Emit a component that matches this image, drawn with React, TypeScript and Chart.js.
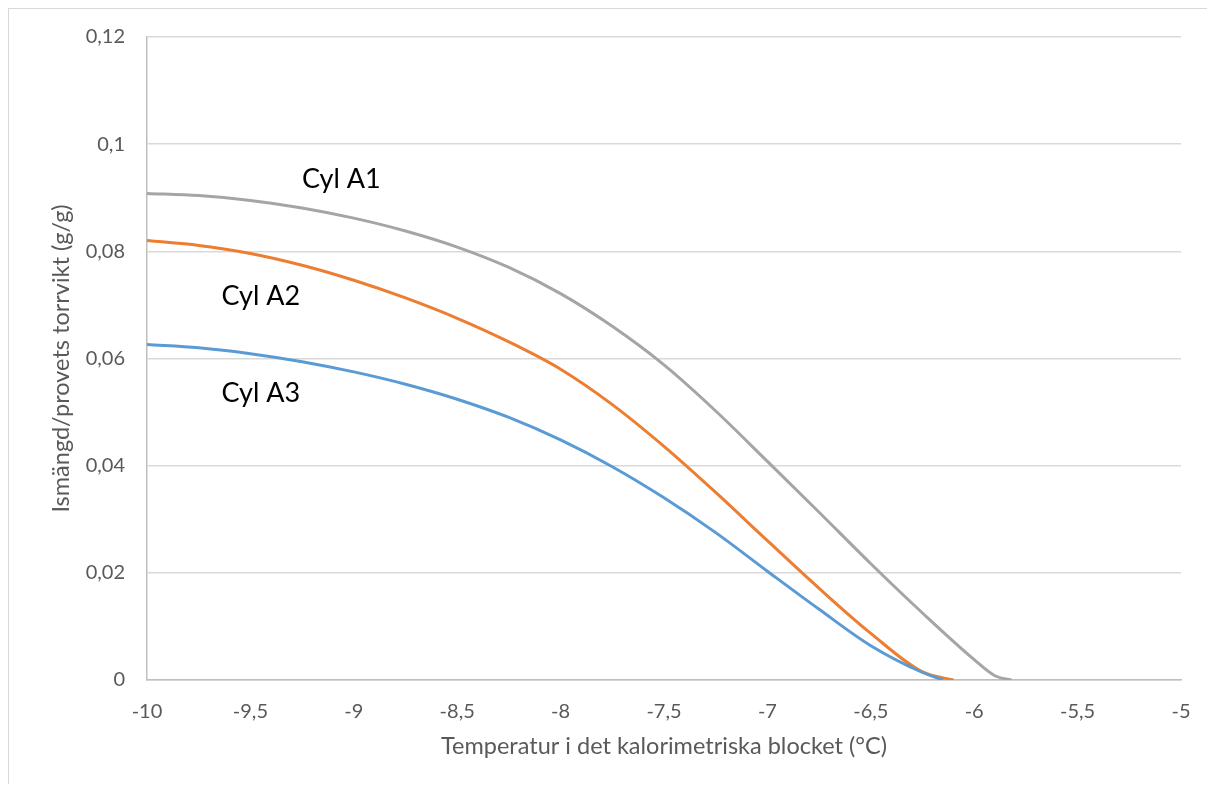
import React, { useEffect, useRef } from "react";
import { Chart, registerables } from "chart.js";

Chart.register(...registerables);

// Cyl A1 (grey)
const xA1 = [-10, -9.75, -9.5, -9.25, -9, -8.75, -8.5, -8.25, -8, -7.75, -7.5, -7.25, -7, -6.75, -6.5, -6.25, -6, -5.9, -5.82];
const yA1 = [0.0908, 0.0904, 0.0895, 0.0881, 0.0862, 0.0838, 0.0808, 0.077, 0.0721, 0.066, 0.0588, 0.0502, 0.0408, 0.0313, 0.0217, 0.0125, 0.0038, 0.0008, 0];

// Cyl A2 (orange)
const xA2 = [-10, -9.75, -9.5, -9.25, -9, -8.75, -8.5, -8.25, -8, -7.75, -7.5, -7.25, -7, -6.75, -6.5, -6.25, -6.1];
const yA2 = [0.082, 0.0811, 0.0796, 0.0774, 0.0746, 0.0713, 0.0675, 0.0631, 0.058, 0.0514, 0.0436, 0.035, 0.026, 0.0171, 0.0087, 0.0015, 0];

// Cyl A3 (blue)
const xA3 = [-10, -9.75, -9.5, -9.25, -9, -8.75, -8.5, -8.25, -8, -7.75, -7.5, -7.25, -7, -6.75, -6.5, -6.25, -6.15];
const yA3 = [0.0626, 0.062, 0.0609, 0.0594, 0.0575, 0.0552, 0.0524, 0.049, 0.0448, 0.0398, 0.034, 0.0275, 0.0203, 0.0132, 0.0064, 0.0014, 0];

// Curve labels (data coordinates)
const labelTexts = ["Cyl A1", "Cyl A2", "Cyl A3"];
const labelXs = [-9.06, -9.45, -9.45];
const labelYs = [0.0935, 0.0716, 0.0535];

const xTitle = "Temperatur i det kalorimetriska blocket (°C)";
const yTitle = "Ismängd/provets torrvikt (g/g)";

const fmt = (v: number) => String(Math.round(v * 1000) / 1000).replace(".", ",");

const FONT = "Lato";

const labelPlugin = {
  id: "curveLabels",
  afterDatasetsDraw(chart: any) {
    const { ctx, scales } = chart;
    ctx.save();
    ctx.font = `27px ${FONT}`;
    ctx.fillStyle = "#000000";
    ctx.textAlign = "center";
    ctx.textBaseline = "middle";
    labelTexts.forEach((t, i) => {
      ctx.fillText(t, scales.x.getPixelForValue(labelXs[i]), scales.y.getPixelForValue(labelYs[i]));
    });
    ctx.restore();
  },
};

export default function App() {
  const ref = useRef<HTMLCanvasElement | null>(null);

  useEffect(() => {
    if (!ref.current) return;
    const mk = (xs: number[], ys: number[]) => xs.map((x, i) => ({ x, y: ys[i] }));
    const lineDs = (label: string, xs: number[], ys: number[], color: string) => ({
      label,
      data: mk(xs, ys),
      borderColor: color,
      backgroundColor: color,
      borderWidth: 3,
      pointRadius: 0,
      pointHoverRadius: 0,
      fill: false,
      cubicInterpolationMode: "monotone" as const,
    });
    const chart = new Chart(ref.current, {
      type: "line",
      data: {
        datasets: [
          lineDs("Cyl A3", xA3, yA3, "#5b9bd5"),
          lineDs("Cyl A2", xA2, yA2, "#ed7d31"),
          lineDs("Cyl A1", xA1, yA1, "#a5a5a5"),
        ],
      },
      options: {
        responsive: false,
        animation: false,
        layout: { autoPadding: false, padding: { left: 0, right: 26, top: 28, bottom: 9 } },
        plugins: { legend: { display: false }, tooltip: { enabled: false } },
        scales: {
          x: {
            type: "linear",
            min: -10,
            max: -5,
            ticks: {
              stepSize: 0.5,
              padding: 20,
              color: "#595959",
              font: { family: FONT, size: 20 },
              callback: (v: any) => fmt(Number(v)),
              maxRotation: 0,
              autoSkip: false,
            },
            grid: { display: false, drawTicks: false },
            border: { display: true, color: "#bfbfbf", width: 1.5 },
            title: {
              display: true,
              text: xTitle,
              color: "#595959",
              font: { family: FONT, size: 23.5 },
              padding: { top: 0, bottom: 14 },
            },
            afterFit: (s: any) => {
              s.height = 95;
              s.paddingLeft = 0;
              s.paddingRight = 0;
            },
          },
          y: {
            type: "linear",
            min: 0,
            max: 0.12,
            ticks: {
              stepSize: 0.02,
              padding: 22,
              color: "#595959",
              font: { family: FONT, size: 20 },
              callback: (v: any) => fmt(Number(v)),
            },
            grid: { color: "#d9d9d9", drawTicks: false, lineWidth: 1.5 },
            border: { display: true, color: "#bfbfbf", width: 1.5 },
            title: {
              display: true,
              text: yTitle,
              color: "#595959",
              font: { family: FONT, size: 23.5 },
              padding: { top: 38, bottom: 0 },
            },
            afterFit: (s: any) => {
              s.width = 138;
              s.paddingTop = 0;
              s.paddingBottom = 0;
            },
          },
        },
      },
      plugins: [labelPlugin],
    });
    return () => chart.destroy();
  }, []);

  return (
    <div
      style={{
        width: 1198,
        height: 775,
        borderLeft: "1px solid #d9d9d9",
        borderTop: "1px solid #d9d9d9",
        background: "#ffffff",
      }}
    >
      <canvas ref={ref} width={1198} height={775} style={{ display: "block" }} />
    </div>
  );
}
